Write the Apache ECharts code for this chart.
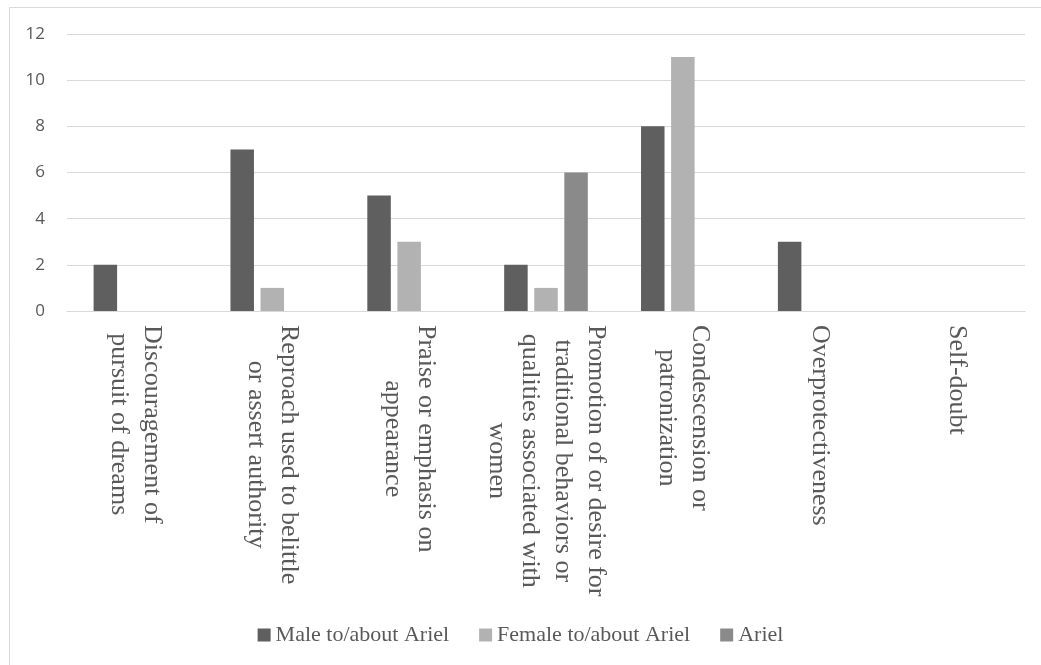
<!DOCTYPE html>
<html>
<head>
<meta charset="utf-8">
<script src="https://cdn.jsdelivr.net/npm/echarts@6/dist/echarts.min.js"></script>
<style>
html,body{margin:0;padding:0;background:#fff;}
#c{width:1041px;height:665px;}
</style>
</head>
<body>
<div id="c"></div>
<script>
var categories = [
  "Discouragement of\npursuit of dreams",
  "Reproach used to belittle\nor assert authority",
  "Praise or emphasis on\nappearance",
  "Promotion of or desire for\ntraditional behaviors or\nqualities associated with\nwomen",
  "Condescension or\npatronization",
  "Overprotectiveness",
  "Self-doubt"
];
var seriesNames = ["Male to/about Ariel", "Female to/about Ariel", "Ariel"];
var maleValues = [2, 7, 5, 2, 8, 3, 0];
var femaleValues = [0, 1, 3, 1, 11, 0, 0];
var arielValues = [0, 0, 0, 6, 0, 0, 0];
var yTicks = [0, 2, 4, 6, 8, 10, 12];

var colors = ["#5f5f5f", "#b2b2b2", "#8a8a8a"];
var serif = 'Liberation Serif, serif';
var chart = echarts.init(document.getElementById('c'), null, {renderer: 'canvas'});

function mkSeries(name, data, color) {
  return {
    name: name,
    type: 'bar',
    data: data,
    barWidth: 23.5,
    barGap: '28%',
    itemStyle: {color: color},
    emphasis: {disabled: true}
  };
}

chart.setOption({
  animation: false,
  backgroundColor: '#ffffff',
  color: colors,
  textStyle: {fontFamily: serif},
  graphic: [{
    type: 'polyline',
    shape: {points: [[9.5, 670], [9.5, 7.5], [1050, 7.5]]},
    style: {stroke: '#d9d9d9', lineWidth: 1, fill: null},
    silent: true
  }],
  grid: {left: 67, right: 16, top: 34, bottom: 354, containLabel: false},
  legend: {
    top: 619,
    left: 'center',
    itemWidth: 13,
    itemHeight: 13,
    itemGap: 30,
    icon: 'rect',
    textStyle: {fontFamily: serif, fontSize: 22, color: '#595959'},
    data: seriesNames
  },
  xAxis: {
    type: 'category',
    data: categories,
    axisLine: {lineStyle: {color: '#d9d9d9', width: 1}},
    axisTick: {show: false},
    axisLabel: {
      interval: 0,
      rotate: -90,
      margin: 14,
      color: '#595959',
      fontFamily: serif,
      fontSize: 26,
      lineHeight: 33,
      formatter: function (v) {
        return v.split('\n').map(function (l) { return '{c|' + l + '}'; }).join('\n');
      },
      rich: {c: {align: 'center', fontFamily: serif, fontSize: 26, lineHeight: 33, color: '#595959'}}
    }
  },
  yAxis: {
    type: 'value',
    min: yTicks[0],
    max: yTicks[yTicks.length - 1],
    interval: 2,
    axisLine: {show: false},
    axisTick: {show: false},
    splitLine: {lineStyle: {color: '#d9d9d9', width: 1}},
    axisLabel: {
      color: '#595959', fontFamily: 'Open Sans, sans-serif', fontSize: 17, margin: 22,
      formatter: function (v) { return '{v|' + v + '}'; },
      rich: {v: {fontFamily: 'Open Sans, sans-serif', fontSize: 17, color: '#595959'}}
    }
  },
  series: [
    mkSeries(seriesNames[0], maleValues, colors[0]),
    mkSeries(seriesNames[1], femaleValues, colors[1]),
    mkSeries(seriesNames[2], arielValues, colors[2])
  ]
});
</script>
</body>
</html>
